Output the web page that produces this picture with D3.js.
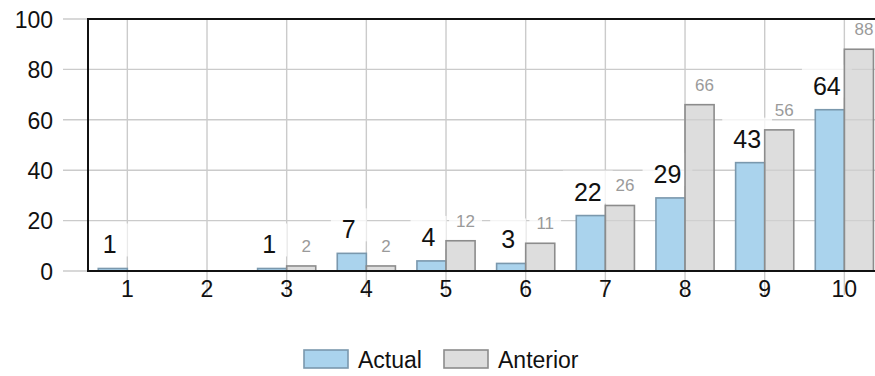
<!DOCTYPE html>
<html>
<head>
<meta charset="utf-8">
<script src="https://cdn.jsdelivr.net/npm/d3@7"></script>
<style>
  html, body { margin: 0; padding: 0; background: #fff; }
  svg { display: block; font-family: "Liberation Sans", Arial, sans-serif; }
</style>
</head>
<body>
<svg id="chart" width="875" height="376"></svg>
<script>
// Categories along the x axis
const categories = ["1", "2", "3", "4", "5", "6", "7", "8", "9", "10"];
// Series values
const actual   = [1, 0, 1, 7, 4, 3, 22, 29, 43, 64];
const anterior = [0, 0, 2, 2, 12, 11, 26, 66, 56, 88];
const seriesNames = ["Actual", "Anterior"];
// Y axis ticks
const yTicks = [0, 20, 40, 60, 80, 100];

const svg = d3.select("#chart");
const W = 875;
const plot = { left: 88, top: 19, bottom: 271 };

const y = d3.scaleLinear().domain([0, 100]).range([plot.bottom, plot.top]);
const x = d3.scaleBand().domain(categories).range([87.5, 884.2]).paddingInner(0).paddingOuter(0);
const xs = d3.scaleBand().domain(seriesNames).range([0, x.bandwidth()]).paddingInner(0).paddingOuter(0.37);
const center = c => x(c) + x.bandwidth() / 2;

const style = {
  Actual:   { fill: "#aad3ed", opacity: 1, stroke: "#7a98ad", label: "#111", size: 25, dx: -3, dy: -15, padX: 11, top: -30, h: 33 },
  Anterior: { fill: "#d0d0d0", opacity: 0.72, stroke: "#8c8c8c", label: "#9a9a9a", size: 17, dx: 5, dy: -14, padX: 7, top: -19, h: 22 }
};
const gridColor = "#cbcbcb";

const gGrid = svg.append("g");
const gBack = svg.append("g");
const gBars = svg.append("g");
const gFrame = svg.append("g");
const gLabels = svg.append("g");
const gAxes = svg.append("g");

// Horizontal grid lines (extend into the tick area on the left)
gGrid.append("g").selectAll("line").data(yTicks).join("line")
  .attr("x1", 63).attr("x2", W)
  .attr("y1", d => y(d)).attr("y2", d => y(d))
  .attr("stroke", gridColor).attr("stroke-width", 1.4);

// Vertical grid lines at each category tick
gGrid.append("g").selectAll("line").data(categories).join("line")
  .attr("x1", d => center(d)).attr("x2", d => center(d))
  .attr("y1", plot.top).attr("y2", 295)
  .attr("stroke", gridColor).attr("stroke-width", 1.4);

// Y axis tick labels
const gy = gAxes.append("g").attr("transform", "translate(53,0)")
  .call(d3.axisLeft(y).tickValues(yTicks).tickSize(0).tickPadding(0));
gy.select(".domain").remove();
gy.selectAll("text").attr("font-size", 23).attr("fill", "#111")
  .attr("font-family", "Liberation Sans, Arial, sans-serif").attr("dy", "0.36em");

// X axis tick labels
const gx = gAxes.append("g").attr("transform", "translate(0,281)")
  .call(d3.axisBottom(x).tickSize(0).tickPadding(0));
gx.select(".domain").remove();
gx.selectAll("text").attr("font-size", 23).attr("fill", "#111")
  .attr("font-family", "Liberation Sans, Arial, sans-serif").attr("dy", "0.71em");

// One row per bar
const rows = [];
categories.forEach((c, i) => {
  rows.push({ cat: c, series: "Actual", value: actual[i] });
  rows.push({ cat: c, series: "Anterior", value: anterior[i] });
});
const shown = rows.filter(d => d.value > 0);

// Bars
gBars.selectAll("rect").data(shown).join("rect")
  .attr("x", d => x(d.cat) + xs(d.series))
  .attr("width", xs.bandwidth())
  .attr("y", d => y(d.value))
  .attr("height", d => y(0) - y(d.value))
  .attr("fill", d => style[d.series].fill)
  .attr("fill-opacity", d => style[d.series].opacity)
  .attr("stroke", d => style[d.series].stroke)
  .attr("stroke-width", 1.6);

// Value labels
const labelPos = d => {
  const s = style[d.series];
  const cx = x(d.cat) + xs(d.series) + xs.bandwidth() / 2 + s.dx;
  return `translate(${cx},${y(d.value) + s.dy})`;
};
const texts = gLabels.selectAll("text").data(shown).join("text")
  .attr("transform", labelPos)
  .attr("text-anchor", "middle")
  .attr("font-size", d => style[d.series].size)
  .attr("fill", d => style[d.series].label)
  .text(d => d.value);

// Soft white backing behind each label, under the bars, softening the grid
texts.each(function(d) {
  const s = style[d.series];
  const bb = this.getBBox();
  gBack.append("rect")
    .attr("transform", labelPos(d))
    .attr("x", bb.x - s.padX).attr("width", bb.width + 2 * s.padX)
    .attr("y", s.top).attr("height", s.h)
    .attr("fill", "#fff").attr("fill-opacity", 0.78);
});

// Plot frame: left edge, top edge and baseline
gFrame.attr("stroke", "#111").attr("stroke-width", 2);
gFrame.append("line").attr("x1", plot.left).attr("x2", plot.left).attr("y1", plot.top - 1).attr("y2", plot.bottom + 1);
gFrame.append("line").attr("x1", plot.left).attr("x2", W).attr("y1", plot.top).attr("y2", plot.top);
gFrame.append("line").attr("x1", plot.left).attr("x2", W).attr("y1", plot.bottom).attr("y2", plot.bottom);

// Legend
const legend = svg.append("g").attr("transform", "translate(304,350)");
const items = legend.selectAll("g").data(seriesNames).join("g")
  .attr("transform", (d, i) => `translate(${i * 140},0)`);
items.append("rect").attr("width", 44).attr("height", 18)
  .attr("fill", d => style[d].fill)
  .attr("fill-opacity", d => style[d].opacity)
  .attr("stroke", d => style[d].stroke).attr("stroke-width", 1.6);
items.append("text").attr("x", 54).attr("y", 17.5)
  .attr("font-size", 23).attr("fill", "#111").text(d => d);
</script>
</body>
</html>
